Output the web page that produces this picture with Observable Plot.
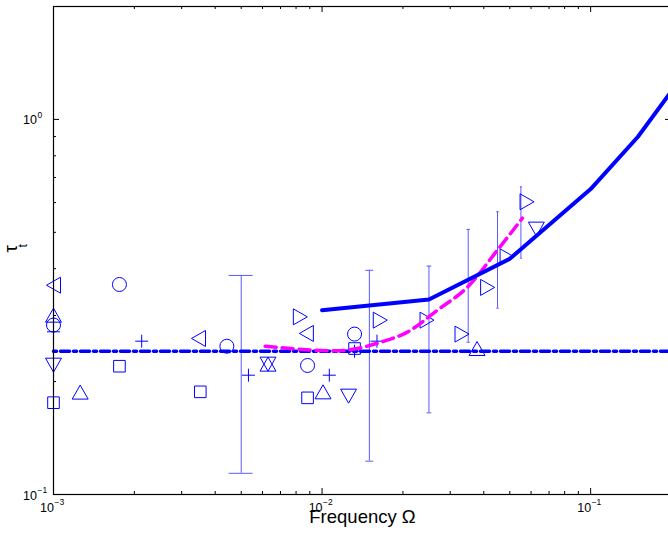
<!DOCTYPE html>
<html><head><meta charset="utf-8">
<script src="https://cdn.jsdelivr.net/npm/d3@7"></script>
<script src="https://cdn.jsdelivr.net/npm/@observablehq/plot@0.6"></script>
<style>
html,body{margin:0;padding:0;background:#fff;overflow:hidden;}
#chart{width:668px;height:545px;overflow:hidden;}
#chart svg{display:block;max-width:none !important;height:545px !important;}
</style></head><body><div id="chart"></div>
<script>
// ---------- data ----------
const xMajor = [0.001, 0.01, 0.1];
const xExp = ["\u22123", "\u22122", "\u22121"];
const xMinor = [0.002,0.003,0.004,0.005,0.006,0.007,0.008,0.009,
                0.02,0.03,0.04,0.05,0.06,0.07,0.08,0.09,0.2];
const yMajor = [0.1, 1];
const yExp = ["\u22121", "0"];
const yMinor = [0.2,0.3,0.4,0.5,0.6,0.7,0.8,0.9,2];

const circX = [0.001, 0.00176, 0.00442, 0.00883, 0.01321];
const circY = [0.283, 0.363, 0.2485, 0.2208, 0.2677];
const sqX = [0.001, 0.00176, 0.00352, 0.00883, 0.01321];
const sqY = [0.1757, 0.2198, 0.1878, 0.1810, 0.2450];
const plusX = [0.001, 0.00213, 0.00532, 0.01064, 0.01601, 0.01321];
const plusY = [0.2715, 0.2563, 0.208, 0.208, 0.2563, 0.241];
const upX = [0.001, 0.001257, 0.00629, 0.01008, 0.03776];
const upY = [0.3007, 0.1875, 0.2226, 0.1878, 0.245];
const downX = [0.001, 0.00629, 0.01255, 0.06279];
const downY = [0.2212, 0.2226, 0.1829, 0.5099];
const leftX = [0.001, 0.003467, 0.00874];
const leftY = [0.3614, 0.2606, 0.2688];
const rightX = [0.0083, 0.01647, 0.02459, 0.03319, 0.04134, 0.04884, 0.05797];
const rightY = [0.2976, 0.2916, 0.2916, 0.2677, 0.3565, 0.4302, 0.6031];

const ebX = [0.005, 0.015, 0.025, 0.035, 0.045, 0.055];
const ebLow = [0.1139, 0.1227, 0.1651, 0.2547, 0.314, 0.4266];
const ebHigh = [0.3837, 0.396, 0.4063, 0.509, 0.567, 0.661];

const solidX = [0.01, 0.025, 0.05, 0.1, 0.15, 0.2];
const solidY = [0.31, 0.331, 0.425, 0.652, 0.899, 1.19];

const magX = [0.00614, 0.0079, 0.01139, 0.01352, 0.01605, 0.02077, 0.02686, 0.03474, 0.04494, 0.0557];
const magY = [0.2485, 0.2445, 0.2415, 0.245, 0.2532, 0.271, 0.310, 0.357, 0.448, 0.5454];

const refX = [0.001, 0.2];
const refY = [0.241, 0.241];

// ---------- helpers ----------
const pts = (xs, ys) => xs.map((x, i) => ({x, y: ys[i]}));
const K = 1.14;
const rad = s => Math.sqrt(s / Math.PI);
const triUp = {draw(c, s){const r = rad(s); c.moveTo(0,-r); c.lineTo(K*r, r); c.lineTo(-K*r, r); c.closePath();}};
const triDown = {draw(c, s){const r = rad(s); c.moveTo(0, r); c.lineTo(K*r,-r); c.lineTo(-K*r,-r); c.closePath();}};
const triLeft = {draw(c, s){const r = rad(s); c.moveTo(-r,0); c.lineTo(r,-K*r); c.lineTo(r, K*r); c.closePath();}};
const triRight = {draw(c, s){const r = rad(s); c.moveTo(r,0); c.lineTo(-r,-K*r); c.lineTo(-r, K*r); c.closePath();}};
const sq = {draw(c, s){const r = rad(s); c.rect(-r,-r,2*r,2*r);}};
const plus = {draw(c, s){const r = rad(s); c.moveTo(-r,0); c.lineTo(r,0); c.moveTo(0,-r); c.lineTo(0,r);}};

const W = 673, H = 545, mL = 53, mR = 2, mT = 6, mB = 51;
const fw = W - mL - mR, fh = H - mT - mB;
const BLUE = "#0000ff";
const EBC = "#5a5aff";
const TEE = 0.00051;
const FONT = "'Liberation Sans', Arial, Helvetica, sans-serif";

const eb = ebX.map((x, i) => ({x, lo: ebLow[i], hi: ebHigh[i]}));
const mk = (data, symbol, r) => Plot.dot(data, {x: "x", y: "y", symbol, r, stroke: BLUE, fill: "none", strokeWidth: 1});

const chart = Plot.plot({
  width: W, height: H,
  marginLeft: mL, marginRight: mR, marginTop: mT, marginBottom: mB,
  style: {fontFamily: FONT, background: "white", color: "black", maxWidth: "none", width: W + "px", height: H + "px"},
  x: {type: "log", domain: [0.001, 0.2], axis: null},
  y: {type: "log", domain: [0.1, 2], axis: null},
  marks: [
    // error bars
    Plot.ruleX(eb, {x: "x", y1: "lo", y2: "hi", stroke: EBC, strokeWidth: 1}),
    Plot.link(eb, {x1: d => d.x - TEE, x2: d => d.x + TEE, y1: "lo", y2: "lo", stroke: EBC, strokeWidth: 1}),
    Plot.link(eb, {x1: d => d.x - TEE, x2: d => d.x + TEE, y1: "hi", y2: "hi", stroke: EBC, strokeWidth: 1}),
    // markers
    mk(pts(circX, circY), "circle", 7),
    mk(pts(sqX, sqY), sq, 5.8),
    mk(pts(plusX, plusY), plus, 6.5),
    mk(pts(upX, upY), triUp, 7),
    mk(pts(downX, downY), triDown, 7),
    mk(pts(leftX, leftY), triLeft, 7),
    mk(pts(rightX, rightY), triRight, 7),
    // lines
    Plot.line(pts(refX, refY), {x: "x", y: "y", stroke: BLUE, strokeWidth: 3.5, strokeDasharray: "9,4,3,4", strokeDashoffset: 13}),
    Plot.line(pts(magX, magY), {x: "x", y: "y", stroke: "#ff00ff", strokeWidth: 3.5, strokeDasharray: "11,6", curve: "monotone-x"}),
    Plot.line(pts(solidX, solidY), {x: "x", y: "y", stroke: BLUE, strokeWidth: 4, strokeLinejoin: "round", clip: true}),
    // frame and ticks
    Plot.frame({stroke: "black", strokeWidth: 1.2}),
    Plot.tickX(xMajor, {x: d => d, insetTop: fh - 6, stroke: "black"}),
    Plot.tickX(xMinor, {x: d => d, insetTop: fh - 3, stroke: "black"}),
    Plot.tickX(xMajor, {x: d => d, insetBottom: fh - 6, stroke: "black"}),
    Plot.tickX(xMinor, {x: d => d, insetBottom: fh - 3, stroke: "black"}),
    Plot.tickY(yMajor, {y: d => d, insetRight: fw - 6, stroke: "black"}),
    Plot.tickY(yMinor, {y: d => d, insetRight: fw - 3, stroke: "black"}),
    Plot.tickY(yMajor, {y: d => d, insetLeft: fw - 6, stroke: "black"}),
    Plot.tickY(yMinor, {y: d => d, insetLeft: fw - 3, stroke: "black"}),
    // tick labels
    Plot.text(xMajor, {x: d => d, frameAnchor: "bottom", text: () => "10", textAnchor: "end", dx: 0.5, dy: 17.5, fontSize: 12.5, fill: "black"}),
    Plot.text(xMajor, {x: d => d, frameAnchor: "bottom", text: (d, i) => xExp[i], textAnchor: "start", dx: 1, dy: 10, fontSize: 8.5, fill: "black"}),
    Plot.text(yMajor, {y: d => d, frameAnchor: "left", text: () => "10", textAnchor: "end", dx: -16.5, dy: 1, fontSize: 12.5, fill: "black"}),
    Plot.text(yMajor, {y: d => d, frameAnchor: "left", text: (d, i) => yExp[i], textAnchor: "start", dx: -16, dy: -4.5, fontSize: 8.5, fill: "black"}),
    // axis labels
    Plot.text(["Frequency \u03A9"], {frameAnchor: "bottom", text: d => d, dy: 28, fontSize: 18.5, fill: "black"}),
    Plot.text(["\u03C4"], {frameAnchor: "left", text: d => d, rotate: -90, dx: -42.5, dy: 2, fontSize: 19, fill: "black"}),
    Plot.text(["t"], {frameAnchor: "left", text: d => d, rotate: -90, dx: -30.5, dy: -3, fontSize: 12, fill: "black"})
  ]
});
document.getElementById("chart").append(chart);
</script></body></html>
